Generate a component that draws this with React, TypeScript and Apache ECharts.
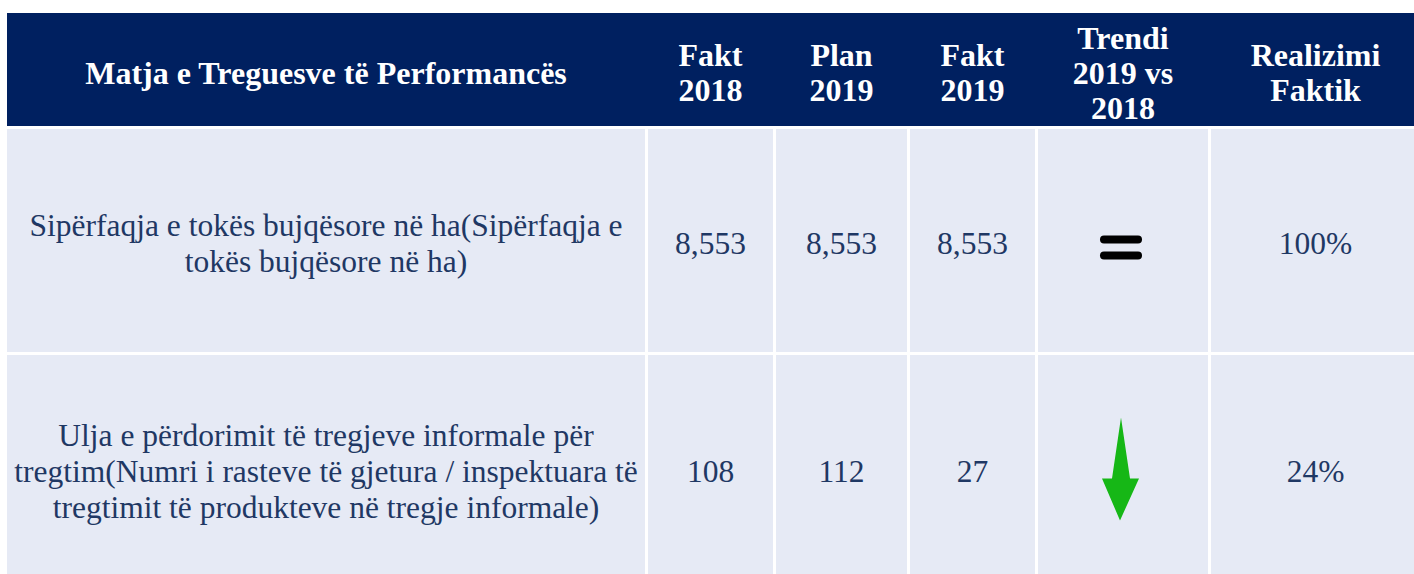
import React, { useEffect, useRef } from "react";
import * as echarts from "echarts";

const headers = [
  "Matja e Treguesve të Performancës",
  "Fakt\n2018",
  "Plan\n2019",
  "Fakt\n2019",
  "Trendi\n2019 vs\n2018",
  "Realizimi\nFaktik",
];
const indicators = [
  "Sipërfaqja e tokës bujqësore në ha(Sipërfaqja e\ntokës bujqësore në ha)",
  "Ulja e përdorimit të tregjeve informale për\ntregtim(Numri i rasteve të gjetura / inspektuara të\ntregtimit të produkteve në tregje informale)",
];
const fakt2018 = ["8,553", "108"];
const plan2019 = ["8,553", "112"];
const fakt2019 = ["8,553", "27"];
const trend = ["equal", "down"];
const realizimi = ["100%", "24%"];

// layout
const colEdges = [7, 648, 776, 910, 1038, 1211, 1420];
const rowEdges = [13, 126, 129, 352, 355, 582];
const GAP = 3;
const NAVY = "#002060";
const CELL = "#E6EAF5";
const TEXT = "#1F3864";
const HFONT = 'bold 32px "Liberation Serif", "Times New Roman", serif';
const BFONT = '31.5px "Liberation Serif", "Times New Roman", serif';

export default function App() {
  const ref = useRef<HTMLDivElement>(null);
  useEffect(() => {
    if (!ref.current) return;
    const chart = echarts.init(ref.current, undefined, { renderer: "svg" });
    const els: any[] = [];
    const nCols = colEdges.length - 1;
    const cx = (c: number) => (colEdges[c] + colEdges[c + 1] - (c < nCols - 1 ? GAP : 0)) / 2;
    const colW = (c: number) => colEdges[c + 1] - colEdges[c] - (c < nCols - 1 ? GAP : 0);

    // header
    els.push({
      type: "rect",
      shape: { x: colEdges[0], y: rowEdges[0], width: colEdges[nCols] - colEdges[0], height: rowEdges[1] - rowEdges[0] },
      style: { fill: NAVY },
      silent: true,
    });
    const hy = (rowEdges[0] + rowEdges[1]) / 2 + 3;
    headers.forEach((h, c) => {
      els.push({
        type: "text",
        x: cx(c),
        y: hy,
        style: {
          text: h,
          font: HFONT,
          fill: "#ffffff",
          align: "center",
          verticalAlign: "middle",
          lineHeight: 35,
        },
      });
    });

    const rows = indicators.map((ind, i) => [ind, fakt2018[i], plan2019[i], fakt2019[i], trend[i], realizimi[i]]);
    rows.forEach((row, r) => {
      const y0 = rowEdges[2 + r * 2];
      const y1 = rowEdges[3 + r * 2];
      const cy = (y0 + y1) / 2 + 3;
      row.forEach((val, c) => {
        els.push({
          type: "rect",
          shape: { x: colEdges[c], y: y0, width: colW(c), height: y1 - y0 },
          style: { fill: CELL },
          silent: true,
        });
        if (c === 4) {
          const x = cx(c) - 2;
          if (val === "equal") {
            els.push({ type: "rect", shape: { x: x - 21, y: cy - 8, width: 42, height: 8, r: 4 }, style: { fill: "#000" } });
            els.push({ type: "rect", shape: { x: x - 21, y: cy + 8, width: 42, height: 8, r: 4 }, style: { fill: "#000" } });
          } else if (val === "down") {
            const t = cy - 54;
            els.push({
              type: "polygon",
              shape: {
                points: [
                  [x, t],
                  [x + 9, t + 61],
                  [x + 18, t + 61],
                  [x - 1, t + 103],
                  [x - 19, t + 61],
                  [x - 9, t + 61],
                ],
              },
              style: { fill: "#16B716" },
            });
          }
        } else {
          els.push({
            type: "text",
            x: cx(c),
            y: cy,
            style: {
              text: val,
              font: BFONT,
              fill: TEXT,
              align: "center",
              verticalAlign: "middle",
              lineHeight: 36,
            },
          });
        }
      });
    });

    chart.setOption({ animation: false, graphic: { elements: els } });
    return () => chart.dispose();
  }, []);
  return (
    <div
      ref={ref}
      style={{ position: "fixed", left: 0, top: 0, width: 1414, height: 574, background: "#fff" }}
    />
  );
}
